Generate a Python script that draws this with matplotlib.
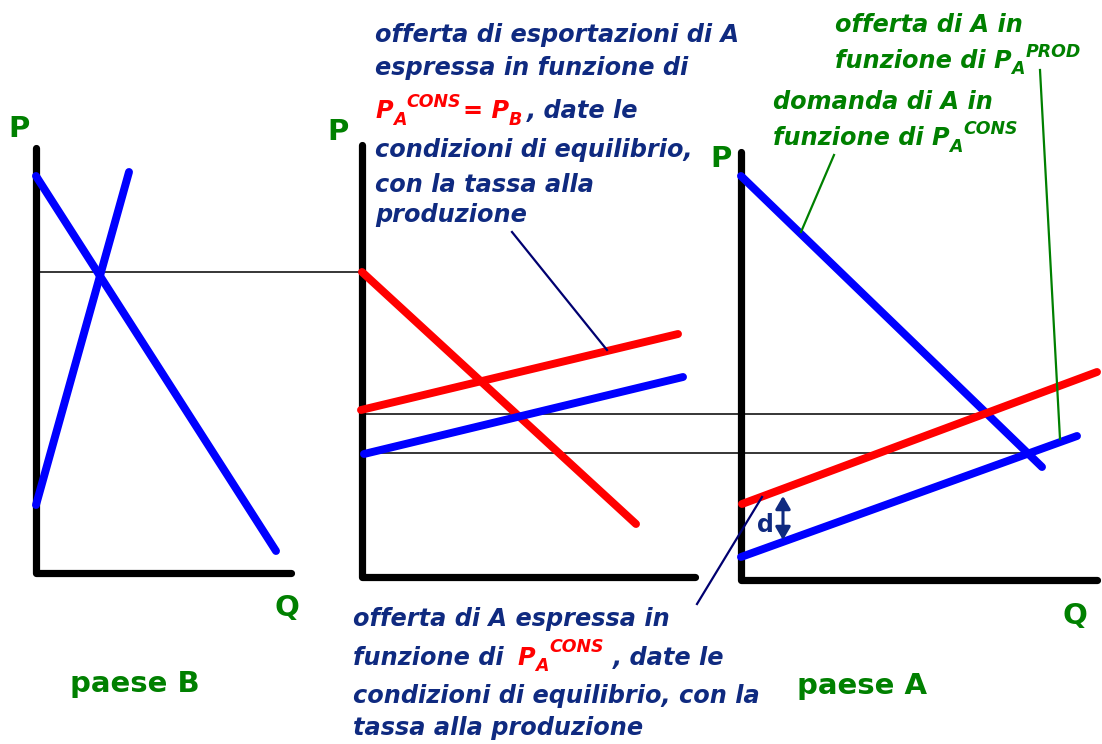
import matplotlib
matplotlib.use("Agg")
import matplotlib.pyplot as plt
from matplotlib.patches import FancyArrowPatch

# ---- canvas ----
W, H = 1102, 744
NAVY = "#0f2a80"
LNAVY = "#000070"
GREEN = "#008000"
RED = "#ff0000"
BLUE = "#0000ff"
FONT = "DejaVu Sans"

# ---- diagram geometry (pixel canvas coordinates) ----
# axes of the three panels: (x of P axis, top of P axis, y of Q axis, right end of Q axis)
axis_B = [36, 148, 573, 291]
axis_X = [362, 145, 577, 695]
axis_A = [741, 152, 580, 1097]

# paese B
demand_B_x = [36, 276]
demand_B_y = [176, 551]
supply_B_x = [36, 129]
supply_B_y = [505, 172]

# middle panel (export market)
import_demand_x = [362, 636]
import_demand_y = [272, 524]
export_supply_red_x = [361, 678]
export_supply_red_y = [410, 334]
export_supply_blue_x = [364, 683]
export_supply_blue_y = [454, 377]

# paese A
demand_A_x = [741, 1042]
demand_A_y = [176, 467]
supply_A_red_x = [742, 1097]
supply_A_red_y = [504, 372]
supply_A_blue_x = [741, 1077]
supply_A_blue_y = [557, 436]

# thin guide lines
guide_x = [[38, 362], [362, 982], [362, 1027]]
guide_y = [[272, 272], [414, 414], [453, 453]]

# pointer lines
pointer_navy = [([512, 607], [232, 350]), ([762, 697], [497, 604])]
pointer_green = [([834, 801], [155, 232]), ([1040, 1060], [70, 439])]

# d arrow
d_arrow_x = 783
d_arrow_y = [496, 540]

fig = plt.figure(figsize=(W / 100, H / 100), dpi=100)
ax = fig.add_axes([0, 0, 1, 1])
ax.set_xlim(0, W)
ax.set_ylim(H, 0)
ax.axis("off")

# axes
for xa, top, ya, right in (axis_B, axis_X, axis_A):
    ax.plot([xa, xa, right], [top, ya, ya], color="black", lw=5.2,
            solid_capstyle="round", solid_joinstyle="round", zorder=3)

# thin guides
for gx, gy in zip(guide_x, guide_y):
    ax.plot(gx, gy, color="black", lw=1.1, zorder=2)

# curves
curves = [
    (demand_B_x, demand_B_y, BLUE),
    (supply_B_x, supply_B_y, BLUE),
    (import_demand_x, import_demand_y, RED),
    (export_supply_red_x, export_supply_red_y, RED),
    (export_supply_blue_x, export_supply_blue_y, BLUE),
    (demand_A_x, demand_A_y, BLUE),
    (supply_A_red_x, supply_A_red_y, RED),
    (supply_A_blue_x, supply_A_blue_y, BLUE),
]
for cx, cy, col in curves:
    ax.plot(cx, cy, color=col, lw=5.7, solid_capstyle="round", zorder=4)

# pointers
for px, py in pointer_navy:
    ax.plot(px, py, color=LNAVY, lw=1.6, zorder=5)
for px, py in pointer_green:
    ax.plot(px, py, color=GREEN, lw=1.6, zorder=5)

# d arrow
arr = FancyArrowPatch((d_arrow_x, d_arrow_y[0]), (d_arrow_x, d_arrow_y[1]),
                      arrowstyle="<|-|>,head_length=0.55,head_width=0.32",
                      color=NAVY, lw=2.2, mutation_scale=14,
                      shrinkA=0, shrinkB=0, zorder=6)
ax.add_patch(arr)
ax.text(757, 532, "d", color=NAVY, fontsize=17, fontweight="bold",
        family=FONT, va="baseline", ha="left")

# axis labels
for s, x, y in [("P", 8, 137), ("P", 327, 140), ("P", 710, 167),
                ("Q", 274, 616), ("Q", 1062, 624)]:
    ax.text(x, y, s, color=GREEN, fontsize=21, fontweight="bold",
            family=FONT, va="baseline", ha="left")
ax.text(70, 692, "paese B", color=GREEN, fontsize=21, fontweight="bold",
        family=FONT, va="baseline", ha="left")
ax.text(797, 694, "paese A", color=GREEN, fontsize=21, fontweight="bold",
        family=FONT, va="baseline", ha="left")

fig.canvas.draw()
renderer = fig.canvas.get_renderer()
inv = ax.transData.inverted()

BIG = 17.3
SMALL = 12.5


def chain(x, y, pieces):
    """pieces: (text, size, color, dy, gap_before)"""
    for s, size, col, dy, gap in pieces:
        x += gap
        t = ax.text(x, y + dy, s, color=col, fontsize=size, fontweight="bold",
                    style="italic", family=FONT, va="baseline", ha="left")
        bb = t.get_window_extent(renderer)
        x = inv.transform((bb.x1, bb.y0))[0]
    return x


def line(x, y, s, col):
    ax.text(x, y, s, color=col, fontsize=BIG, fontweight="bold",
            style="italic", family=FONT, va="baseline", ha="left")


# middle top text
line(375, 42, "offerta di esportazioni di A", NAVY)
line(375, 75, "espressa in funzione di", NAVY)
chain(375, 118, [("P", BIG, RED, 0, 0), ("A", SMALL, RED, 7, 0),
                 ("CONS", SMALL, RED, -11, 0), ("= P", BIG, RED, 0, 2),
                 ("B", SMALL, RED, 7, 0), (", date le", BIG, NAVY, 0, 5)])
line(375, 157, "condizioni di equilibrio,", NAVY)
line(375, 192, "con la tassa alla", NAVY)
line(375, 222, "produzione", NAVY)

# green texts (right)
line(835, 32, "offerta di A in", GREEN)
chain(835, 68, [("funzione di P", BIG, GREEN, 0, 0), ("A", SMALL, GREEN, 6, 0),
                ("PROD", SMALL, GREEN, -11, 1)])
line(773, 109, "domanda di A in", GREEN)
chain(773, 145, [("funzione di P", BIG, GREEN, 0, 0), ("A", SMALL, GREEN, 7, 0),
                 ("CONS", SMALL, GREEN, -11, 0)])

# bottom text
line(353, 626, "offerta di A espressa in", NAVY)
chain(353, 665, [("funzione di", BIG, NAVY, 0, 0), ("P", BIG, RED, 0, 14),
                 ("A", SMALL, RED, 6, 0), ("CONS", SMALL, RED, -13, 1),
                 (", date le", BIG, NAVY, 0, 9)])
line(353, 703, "condizioni di equilibrio, con la", NAVY)
line(353, 735, "tassa alla produzione", NAVY)

fig.savefig("out.png", dpi=100)
